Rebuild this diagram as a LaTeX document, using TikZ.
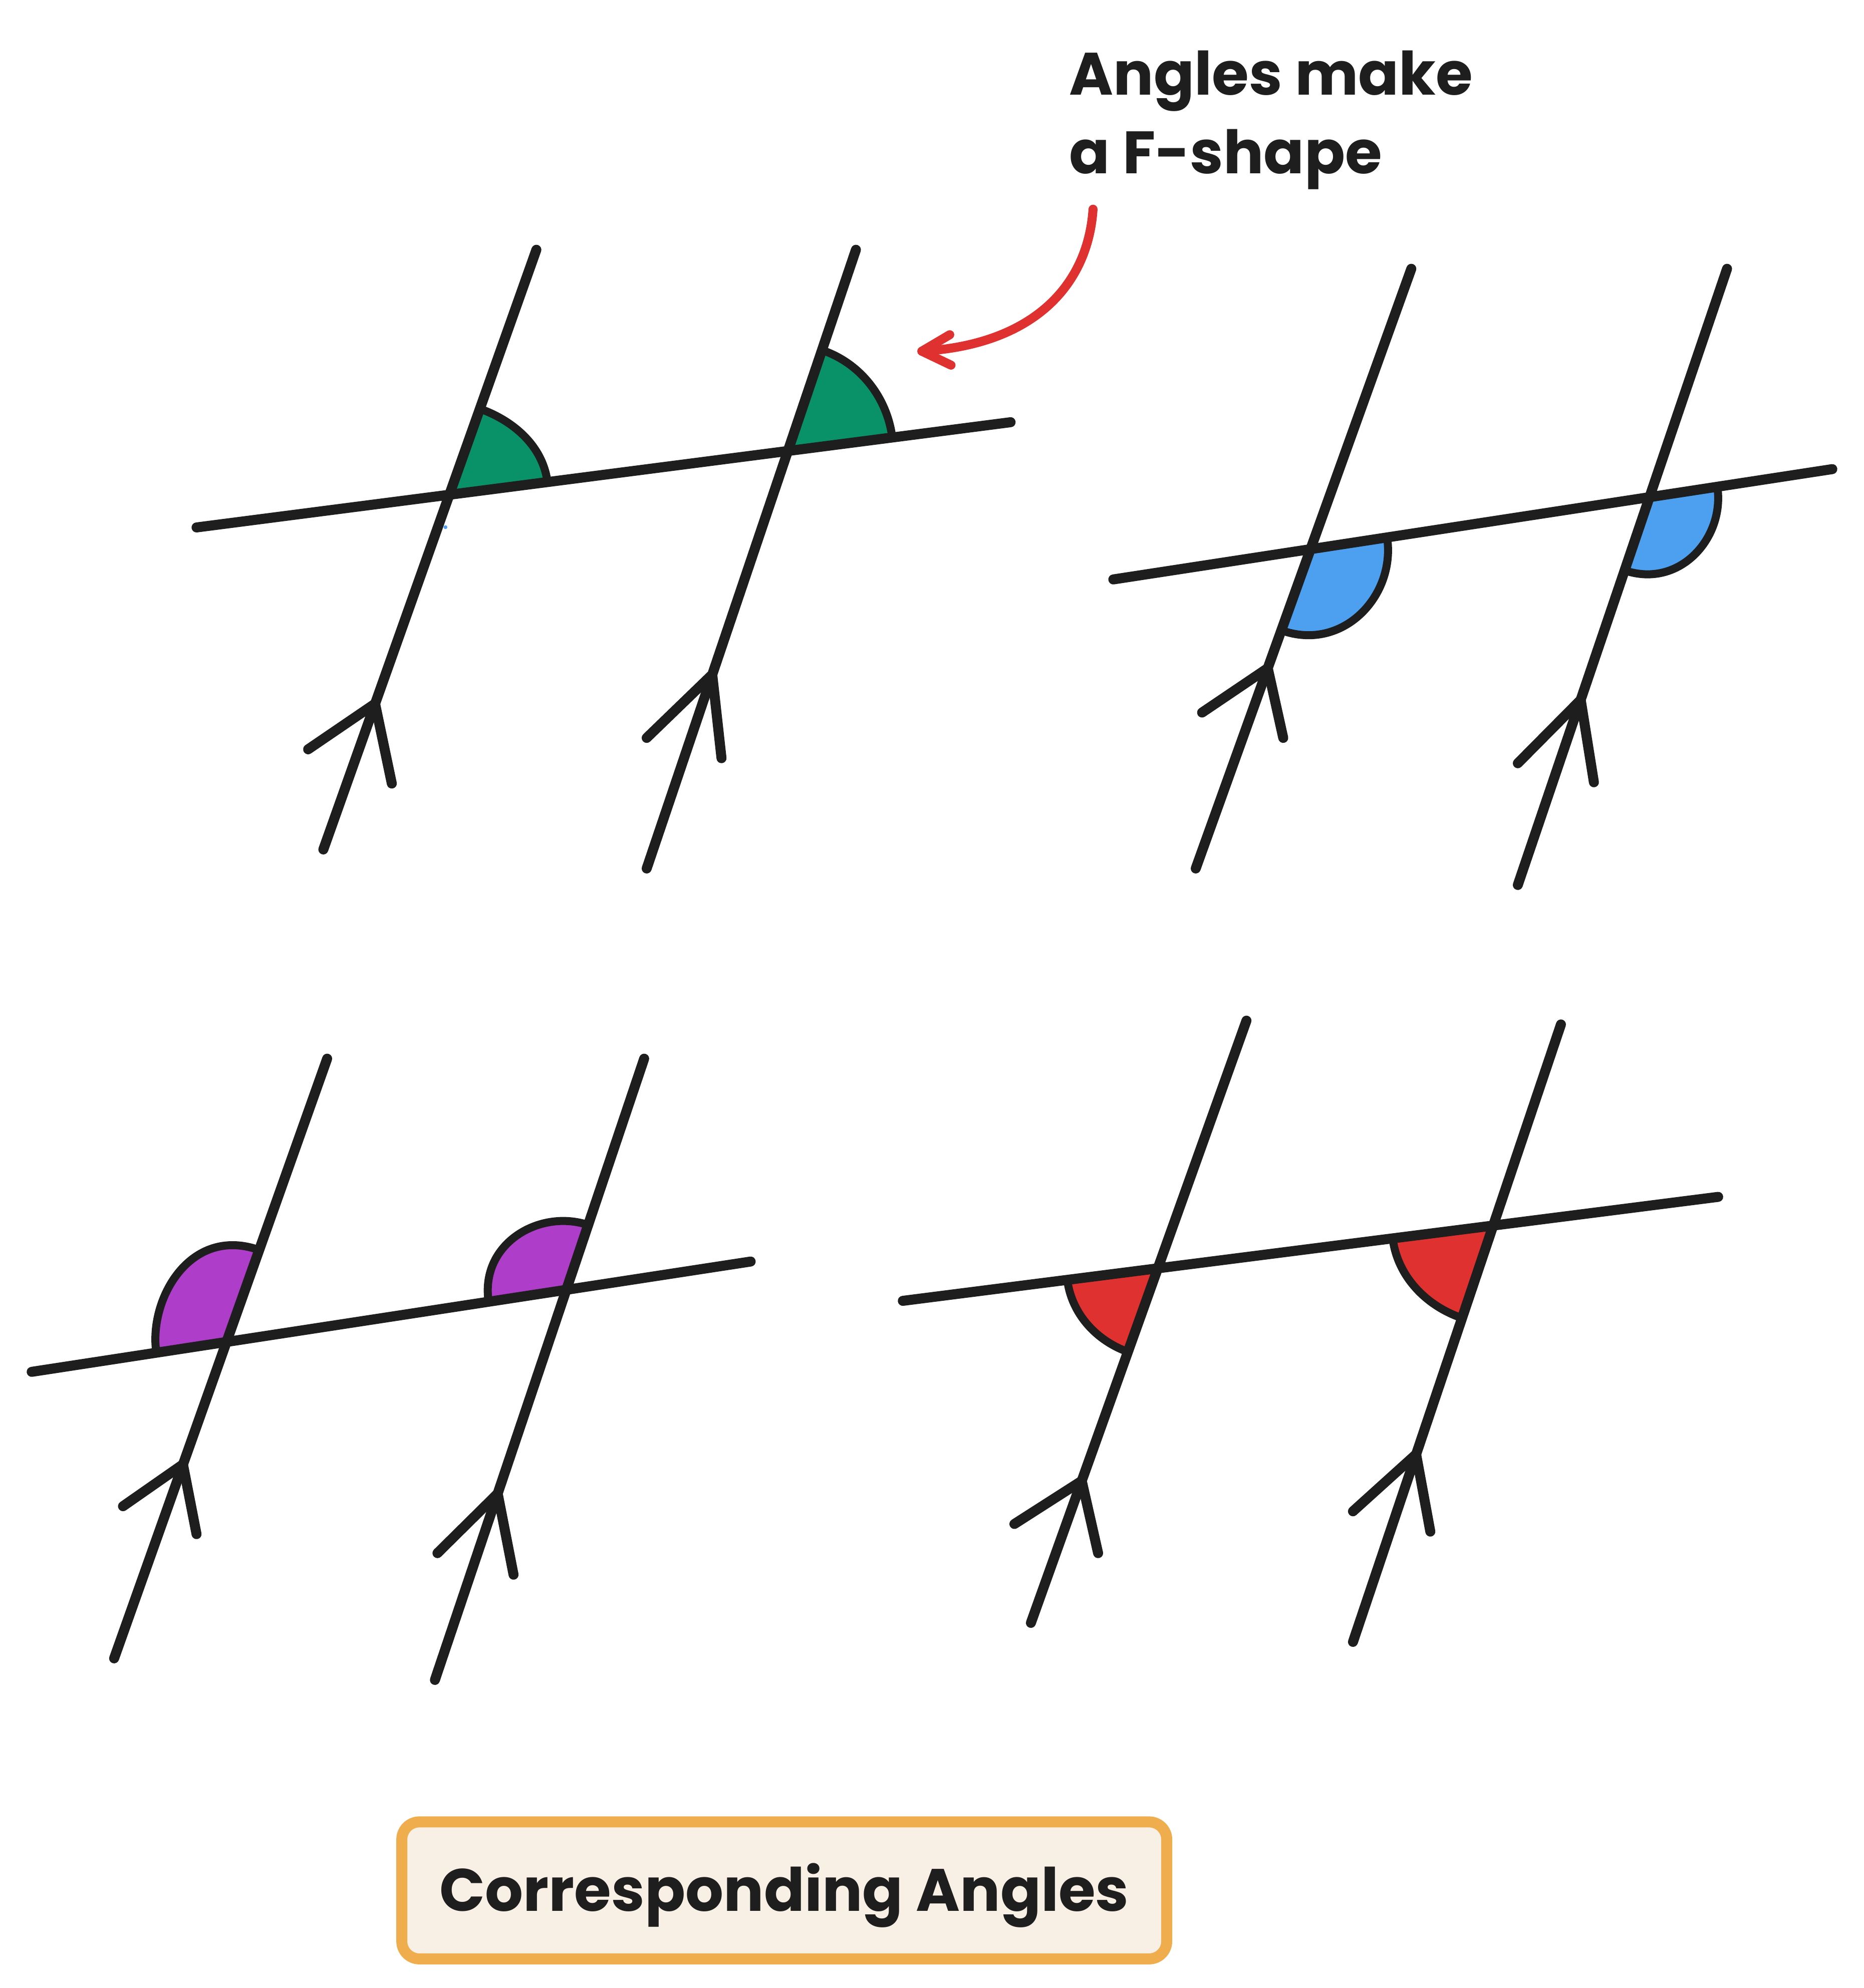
\documentclass[tikz,border=0pt]{standalone}
\usepackage{fontspec}
\setmainfont{Poppins}
\usetikzlibrary{calc}
\definecolor{ink}{HTML}{1E1E1E}
\definecolor{agreen}{HTML}{099268}
\definecolor{ablue}{HTML}{4DA0F0}
\definecolor{apurple}{HTML}{AE3EC9}
\definecolor{ared}{HTML}{E03131}
\definecolor{boxorange}{HTML}{F0AD4E}
\definecolor{boxfill}{HTML}{F9F0E5}
\newcommand\angsector[7]{%
  \filldraw[angline, fill=#1] (#2) -- ($(#2)+(#3:#4)$)
    .. controls ($(#2)+(#3:#4)+(#3+90:#7*#4)$) and ($(#2)+(#5:#6)+(#5-90:#7*#6)$)
    .. ($(#2)+(#5:#6)$) -- cycle;}
\begin{document}
\begin{tikzpicture}[x=0.02532cm, y=-0.02532cm, line cap=round, line join=round,
  geo/.style={draw=ink, line width=0.2cm},
  angline/.style={draw=ink, line width=0.16cm},
  redline/.style={draw=ared, line width=0.18cm},
  notetext/.style={font=\bfseries\fontsize{34}{44}\selectfont, text=ink, inner sep=0pt},
  titlebox/.style={draw=boxorange, fill=boxfill, line width=0.22cm, rounded corners=0.35cm,
    minimum width=15.27cm, minimum height=2.735cm, text height=0.82cm, text depth=0pt,
    font=\bfseries\fontsize{34}{44}\selectfont, text=ink, inner sep=0pt}
]
\useasboundingbox (0,0) rectangle (1470,1568);

% ---------- coordinates ----------
% panel 1
\coordinate (T1a) at (155,416);  \coordinate (T1b) at (797,333);
\coordinate (L1aT) at (423,197); \coordinate (L1aB) at (255,670);
\coordinate (L1bT) at (675,197); \coordinate (L1bB) at (510,685);
\coordinate (X11) at (intersection of T1a--T1b and L1aT--L1aB);
\coordinate (X12) at (intersection of T1a--T1b and L1bT--L1bB);
\coordinate (V11) at (295.8,555); \coordinate (V11l) at (243,591); \coordinate (V11r) at (309,618);
\coordinate (V12) at (561.7,532); \coordinate (V12l) at (510,582); \coordinate (V12r) at (569,598);
% panel 2
\coordinate (T2a) at (878,457);   \coordinate (T2b) at (1445,370);
\coordinate (L2aT) at (1113,212); \coordinate (L2aB) at (943,685);
\coordinate (L2bT) at (1362,212); \coordinate (L2bB) at (1197,698);
\coordinate (X21) at (intersection of T2a--T2b and L2aT--L2aB);
\coordinate (X22) at (intersection of T2a--T2b and L2bT--L2bB);
\coordinate (V21) at (999.8,527);  \coordinate (V21l) at (948,562);  \coordinate (V21r) at (1012,582);
\coordinate (V22) at (1246.6,552); \coordinate (V22l) at (1197,602); \coordinate (V22r) at (1257,617);
% panel 3
\coordinate (T3a) at (25,1082);   \coordinate (T3b) at (592,995);
\coordinate (L3aT) at (258,835);  \coordinate (L3aB) at (90,1308);
\coordinate (L3bT) at (508,835);  \coordinate (L3bB) at (343,1325);
\coordinate (X31) at (intersection of T3a--T3b and L3aT--L3aB);
\coordinate (X32) at (intersection of T3a--T3b and L3bT--L3bB);
\coordinate (V31) at (144.3,1155); \coordinate (V31l) at (97,1188);  \coordinate (V31r) at (155,1210);
\coordinate (V32) at (392.5,1178); \coordinate (V32l) at (345,1225); \coordinate (V32r) at (405,1242);
% panel 4
\coordinate (T4a) at (712,1026);  \coordinate (T4b) at (1355,944);
\coordinate (L4aT) at (983,805);  \coordinate (L4aB) at (813,1280);
\coordinate (L4bT) at (1231,808); \coordinate (L4bB) at (1067,1295);
\coordinate (X41) at (intersection of T4a--T4b and L4aT--L4aB);
\coordinate (X42) at (intersection of T4a--T4b and L4bT--L4bB);
\coordinate (V41) at (853.1,1168);  \coordinate (V41l) at (800,1202);  \coordinate (V41r) at (866,1225);
\coordinate (V42) at (1116.8,1147); \coordinate (V42l) at (1067,1192); \coordinate (V42r) at (1128,1208);

% ---------- angle fills ----------
\angsector{agreen}{X11}{-70.44}{72}{-7.37}{78}{0.3765}
\angsector{agreen}{X12}{-71.32}{84}{-7.37}{83}{0.382}
\angsector{ablue}{X21}{-8.72}{61}{109.77}{68}{0.758}
\angsector{ablue}{X22}{-8.72}{54}{108.75}{61}{0.750}
\angsector{apurple}{X31}{171.28}{56}{289.56}{77}{0.755}
\angsector{apurple}{X32}{171.28}{62}{288.61}{54}{0.749}
\angsector{ared}{X41}{109.69}{70}{172.73}{72}{0.3764}
\angsector{ared}{X42}{108.61}{77}{172.73}{80}{0.383}

% ---------- lines ----------
\foreach \p in {1,2,3,4}{
  \draw[geo] (T\p a) -- (T\p b);
  \draw[geo] (L\p aT) -- (L\p aB);
  \draw[geo] (L\p bT) -- (L\p bB);
  \draw[geo] (V\p 1l) -- (V\p 1) -- (V\p 1r);
  \draw[geo] (V\p 2l) -- (V\p 2) -- (V\p 2r);
}
\fill[ablue] (351.3,415.8) circle (1.5);

% ---------- note and arrow ----------
\node[notetext, anchor=base west] (note1) at (843,75) {Angles make};
\node[notetext, anchor=base west] (note2) at (843,137) {a F-shape};
\coordinate (arS) at (862,165);
\coordinate (arE) at (727,277);
\coordinate (arL) at (749,264);
\coordinate (arR) at (750,288);
\draw[redline] (arS) .. controls (858,225) and (815,272) .. (arE);
\draw[redline] (arL) -- (arE) -- (arR);

% ---------- title ----------
\node[titlebox] (title) at (618.5,1491) {Corresponding Angles};
\end{tikzpicture}
\end{document}
